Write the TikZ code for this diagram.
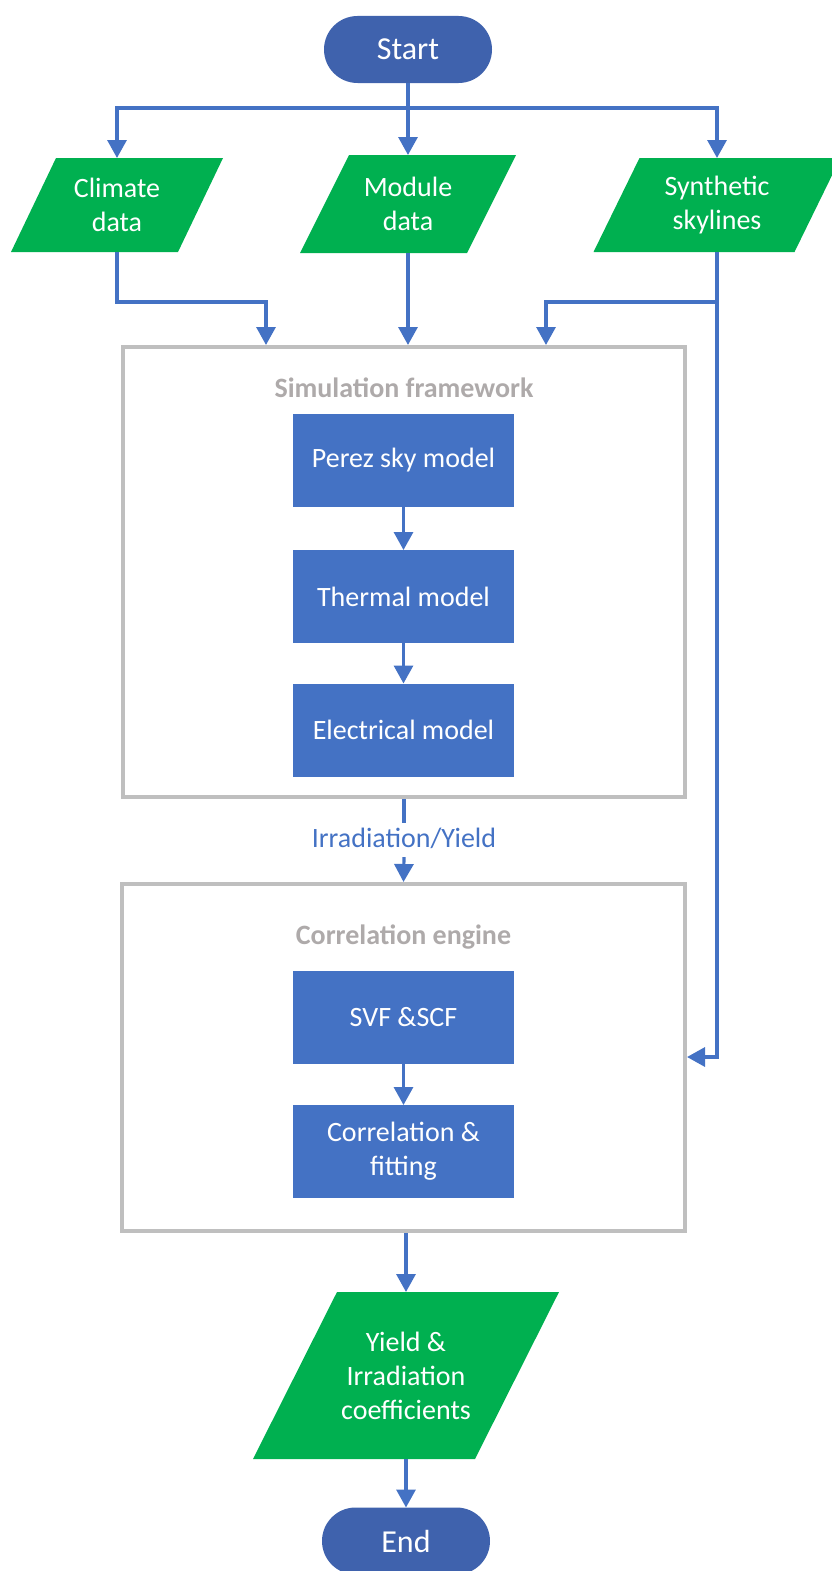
\documentclass[tikz,border=0pt]{standalone}
\usepackage{fontspec}
\setmainfont{Carlito}
\usetikzlibrary{arrows.meta,shapes.misc,backgrounds,calc}
\definecolor{termblue}{HTML}{3F62AD}
\definecolor{procblue}{HTML}{4472C4}
\definecolor{iogreen}{HTML}{00B050}
\definecolor{framegray}{HTML}{BFBFBF}
\definecolor{titlegray}{HTML}{AEAAAA}
\newcommand{\paraFill}[2]{\fill[iogreen] ($(#1.north west)+(#2/2,0)$) -- ($(#1.north east)+(#2/2,0)$) -- ($(#1.south east)-(#2/2,0)$) -- ($(#1.south west)-(#2/2,0)$) -- cycle;}
\begin{document}
\begin{tikzpicture}[x=1pt,y=-1pt,
  font=\fontsize{28}{34}\selectfont,
  terminal/.style={rounded rectangle, fill=termblue, text=white, minimum width=168pt, minimum height=67pt, inner sep=0pt, outer sep=0pt, font=\fontsize{32}{38}\selectfont},
  proc/.style={rectangle, fill=procblue, text=white, minimum width=221pt, minimum height=93pt, inner sep=0pt, outer sep=0pt, align=center},
  iobody/.style={rectangle, text=white, inner sep=0pt, outer sep=0pt, align=center},
  frame/.style={rectangle, draw=framegray, line width=4pt, inner sep=0pt},
  frametitle/.style={text=titlegray, font=\fontsize{28}{34}\selectfont\bfseries, inner sep=0pt},
  arr/.style={draw=procblue, line width=3.2pt, -{Triangle[width=19pt,length=18pt]}},
  link/.style={draw=procblue, line width=3.2pt},
]
\useasboundingbox (0,0) rectangle (831,1571);
\clip (0,0) rectangle (831,1571);

% terminals
\node[terminal] (start) at (408,49.5) {Start};
\node[terminal] (end) at (406,1541) {End};

% input/output bodies
\node[iobody, minimum width=167pt, minimum height=94pt] (climate) at (117,205) {Climate\\data};
\node[iobody, minimum width=167pt, minimum height=98pt] (module) at (408,204) {Module\\data};
\node[iobody, minimum width=201pt, minimum height=94pt] (synth) at (717,205) {Synthetic\\skylines};
\node[iobody, minimum width=222pt, minimum height=167pt] (yield) at (406,1375.5) {Yield \&\\Irradiation\\coefficients};

% frames
\node[frame, minimum width=562pt, minimum height=450pt] (sim) at (404,572) {};
\node[frametitle] (simtitle) at (404,388) {Simulation framework};
\node[frame, minimum width=563pt, minimum height=347pt] (corr) at (403.5,1057.5) {};
\node[frametitle] (corrtitle) at (403.5,937) {Correlation engine};

% processes
\node[proc] (perez) at (403.5,460.5) {Perez sky model};
\node[proc] (thermal) at (403.5,596.5) {Thermal model};
\node[proc] (electrical) at (403.5,730) {Electrical model};
\node[proc] (svf) at (403.5,1017) {SVF \&SCF};
\node[proc] (fit) at (403.5,1151.5) {Correlation \&\\fitting};

% label
\node[text=procblue, inner xsep=0pt, inner ysep=4pt, text height=20pt, text depth=6pt] (irr) at (404,840) {Irradiation/Yield};

\begin{scope}[on background layer]
  \paraFill{climate}{45}
  \paraFill{module}{49}
  \paraFill{synth}{46}
  \paraFill{yield}{84}
\end{scope}

% connectors
\coordinate (split) at (408,108);
\coordinate (simin1) at (266,0 |- sim.north);
\coordinate (simin3) at (546,0 |- sim.north);
\coordinate (corrin) at (corr.east |- 0,1057);

\draw[link] (start.south) -- (split);
\draw[arr] (split) -- (module.north);
\draw[arr] (split) -| (climate.north);
\draw[arr] (split) -| (synth.north);

\draw[arr] (climate.south) -- ++(0,50) -| (simin1);
\draw[arr] (module.south) -- (module.south |- sim.north);
\draw[arr] (synth.south) -- ++(0,50) -| (simin3);
\draw[arr] (synth.south) |- (corrin);

\draw[arr] (perez) -- (thermal);
\draw[arr] (thermal) -- (electrical);
\draw[link] (sim.south) -- (irr.north);
\draw[arr] (irr.south) -- (corr.north);
\draw[arr] (svf) -- (fit);
\draw[arr] (yield.north |- corr.south) -- (yield.north);
\draw[arr] (yield.south) -- (end.north);
\end{tikzpicture}
\end{document}
